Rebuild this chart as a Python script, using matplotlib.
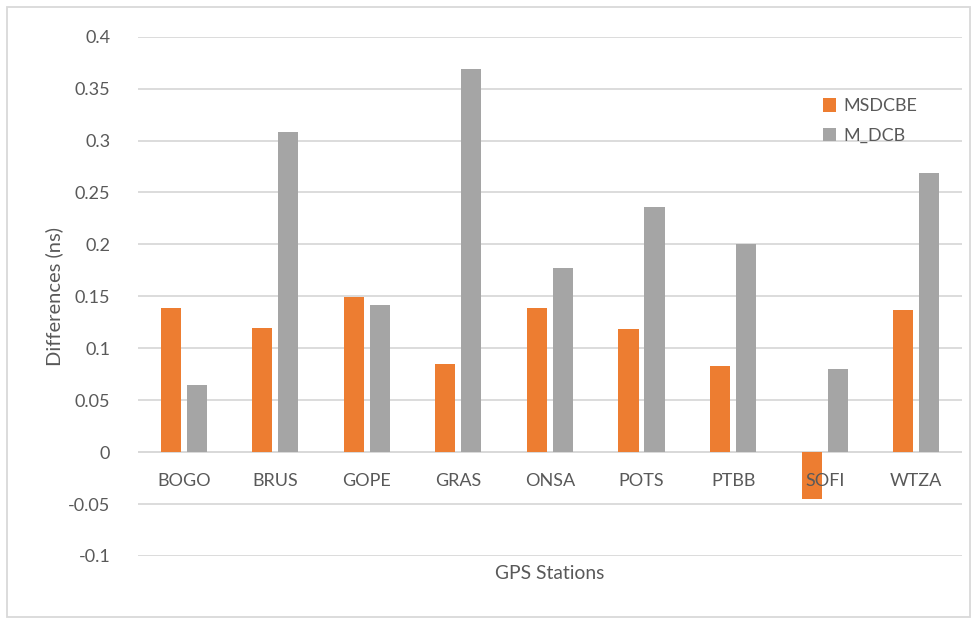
import matplotlib.pyplot as plt
from matplotlib.patches import Rectangle
import numpy as np

plt.rcParams['font.family'] = ['Lato', 'DejaVu Sans']

stations = ['BOGO', 'BRUS', 'GOPE', 'GRAS', 'ONSA', 'POTS', 'PTBB', 'SOFI', 'WTZA']
msdcbe = [0.139, 0.120, 0.149, 0.0845, 0.139, 0.119, 0.0825, -0.045, 0.1365]
m_dcb = [0.0645, 0.308, 0.142, 0.369, 0.1775, 0.2365, 0.2005, 0.0805, 0.269]

txt = '#595959'
grid = '#d9d9d9'

fig = plt.figure(figsize=(9.8, 6.19), dpi=100)
ax = fig.add_axes([0.1408, 0.1018, 0.8408, 0.8389])

x = np.arange(len(stations))
w = 0.22
ax.bar(x - 0.142, msdcbe, w, color='#ED7D31', label='MSDCBE', zorder=2)
ax.bar(x + 0.142, m_dcb, w, color='#A5A5A5', label='M_DCB', zorder=2)

ax.set_xlim(-0.5, len(stations) - 0.5)
ax.set_ylim(-0.1, 0.4)
ax.set_yticks(np.arange(-0.1, 0.401, 0.05))
ax.set_yticklabels(['-0.1', '-0.05', '0', '0.05', '0.1', '0.15', '0.2',
                    '0.25', '0.3', '0.35', '0.4'])
ax.grid(axis='y', color=grid, linewidth=1.3, zorder=0)
ax.set_axisbelow(True)

for s in ['top', 'right', 'left', 'bottom']:
    ax.spines[s].set_visible(False)
ax.axhline(0, color=grid, linewidth=1.3, zorder=1)

ax.set_xticks([])
ax.tick_params(axis='y', length=0, pad=20, labelsize=13, colors=txt)

# category labels sit just under the zero line, on top of the bars
for xi, name in zip(x, stations):
    ax.annotate(name, (xi, 0), xytext=(0, -21), textcoords='offset points',
                ha='center', va='center', fontsize=13, color=txt, zorder=5)

fig.text(0.0556, 0.5218, 'Differences (ns)', rotation=90, ha='center', va='center',
         fontsize=14.5, color=txt)
fig.text(0.5612, 0.074, 'GPS Stations', ha='center', va='center', fontsize=13.9, color=txt)

leg = ax.legend(loc='upper left', bbox_to_anchor=(0.832, 0.853), bbox_transform=fig.transFigure,
                frameon=False, fontsize=13, handlelength=0.75, handleheight=0.75,
                handletextpad=0.4, labelspacing=0.75, borderaxespad=0)
for t in leg.get_texts():
    t.set_color(txt)

fig.patches.append(Rectangle((7 / 980, 1 - 617 / 619), 963 / 980, 610 / 619,
                             transform=fig.transFigure, fill=False,
                             edgecolor=grid, linewidth=1.3))

fig.savefig('out.png', dpi=100)
